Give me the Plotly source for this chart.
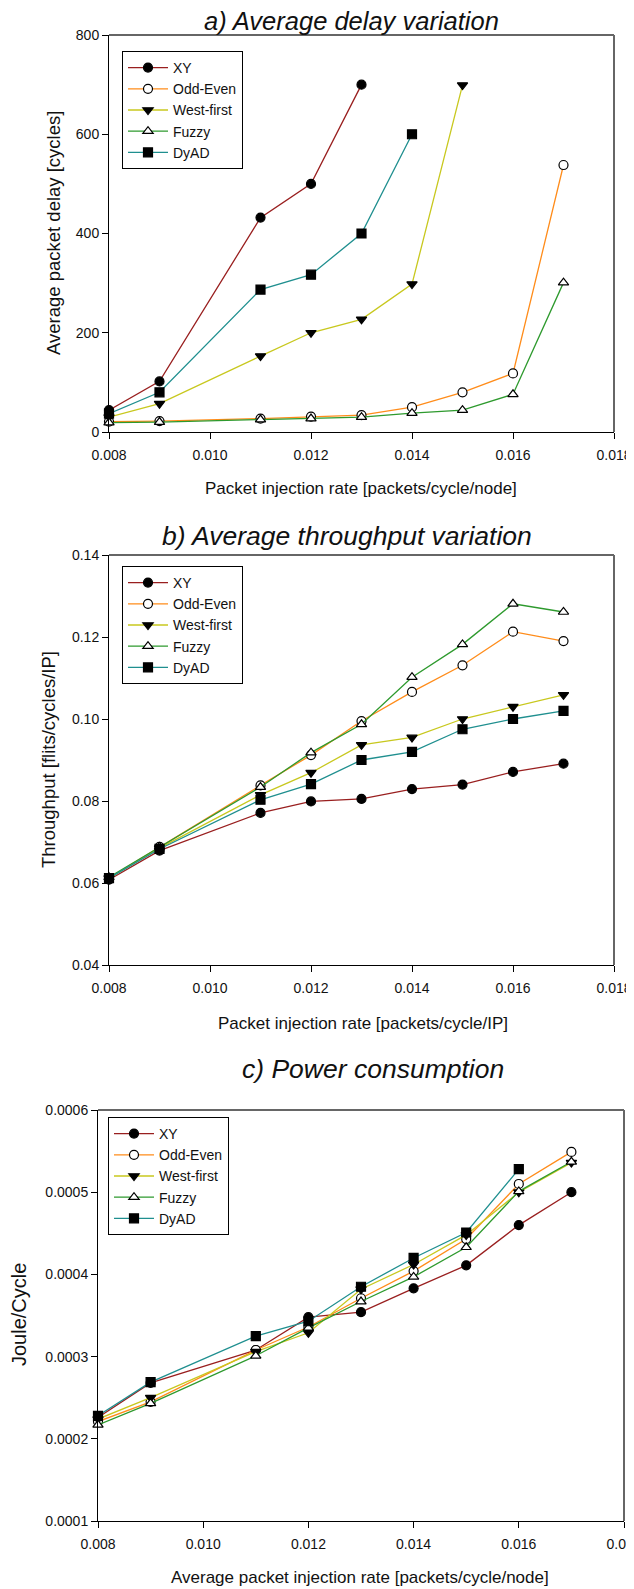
import plotly.graph_objects as go

# injection rates (x) shared by all three panels
rate = [0.008, 0.009, 0.011, 0.012, 0.013, 0.014, 0.015, 0.016, 0.017]

# a) average packet delay [cycles]
delay_xy = [44, 102, 432, 500, 700]
delay_oddeven = [21, 22, 27, 31, 34, 50, 80, 118, 538]
delay_westfirst = [30, 57, 153, 200, 227, 298, 699]
delay_fuzzy = [19, 20, 25, 27, 30, 38, 44, 76, 301]
delay_dyad = [37, 80, 287, 317, 400, 600]

# b) throughput [flits/cycles/IP]
thr_xy = [0.0608, 0.0679, 0.0771, 0.0799, 0.0805, 0.0829, 0.0840, 0.0871, 0.0891]
thr_oddeven = [0.0612, 0.0688, 0.0838, 0.0912, 0.0995, 0.1066, 0.1131, 0.1213, 0.1190]
thr_westfirst = [0.0612, 0.0685, 0.0815, 0.0869, 0.0937, 0.0955, 0.1000, 0.1030, 0.1059]
thr_fuzzy = [0.0614, 0.0688, 0.0834, 0.0918, 0.0987, 0.1102, 0.1182, 0.1281, 0.1261]
thr_dyad = [0.0612, 0.0683, 0.0803, 0.0841, 0.0900, 0.0920, 0.0975, 0.1000, 0.1020]

# c) power consumption [Joule/Cycle]
pow_xy = [0.000226, 0.000268, 0.000308, 0.000348, 0.000354, 0.000383, 0.000411, 0.000460, 0.000500]
pow_oddeven = [0.000221, 0.000245, 0.000308, 0.000336, 0.000371, 0.000404, 0.000443, 0.000510, 0.000549]
pow_westfirst = [0.000224, 0.000250, 0.000306, 0.000329, 0.000382, 0.000412, 0.000448, 0.000500, 0.000536]
pow_fuzzy = [0.000217, 0.000243, 0.000301, 0.000335, 0.000367, 0.000397, 0.000433, 0.000501, 0.000537]
pow_dyad = [0.000228, 0.000269, 0.000325, 0.000343, 0.000385, 0.000420, 0.000451, 0.000528]

names = ['XY', 'Odd-Even', 'West-first', 'Fuzzy', 'DyAD']
colors = ['#991f1f', '#ff8c1a', '#c8c81e', '#2e9a2e', '#1f8f8f']
symbols = ['circle', 'circle-open', 'triangle-down', 'triangle-up-open', 'square']

# the page body has an 8px margin, so the figure is a bit smaller than
# the window and all page pixel positions are shifted by OFF
OFF = 8
W, H = 634 - OFF, 1589 - OFF
FONT = 'Liberation Sans, Arial, sans-serif'


def px_x(p):
    return (p - OFF) / W


def px_y(p):
    return 1 - (p - OFF) / H


fig = go.Figure()

panels = [
    (1, [delay_xy, delay_oddeven, delay_westfirst, delay_fuzzy, delay_dyad]),
    (2, [thr_xy, thr_oddeven, thr_westfirst, thr_fuzzy, thr_dyad]),
    (3, [pow_xy, pow_oddeven, pow_westfirst, pow_fuzzy, pow_dyad]),
]

for k, series in panels:
    suffix = '' if k == 1 else str(k)
    for name, col, sym, ys in zip(names, colors, symbols, series):
        fig.add_trace(go.Scatter(
            x=rate[:len(ys)], y=ys, name=name, mode='lines+markers',
            line=dict(color=col, width=1.3),
            marker=dict(symbol=sym, size=9, color='black',
                        line=dict(color='black', width=1.2)),
            cliponaxis=False,
            xaxis='x' + suffix, yaxis='y' + suffix,
            legend='legend' + suffix))

# open markers need a white inside
for tr in fig.data:
    if tr.marker.symbol.endswith('open'):
        tr.marker.symbol = tr.marker.symbol.replace('-open', '')
        tr.marker.color = 'white'

# page-pixel boxes of the three plot areas: left, right, top, bottom
boxes = {
    1: (109, 614, 35, 432),
    2: (109, 614, 555, 965),
    3: (98, 624, 1110, 1521),
}
yranges = {1: [0, 800], 2: [0.04, 0.14], 3: [0.0001, 0.0006]}
ytick = {1: (200, None), 2: (0.02, '.2f'), 3: (0.0001, '.4f')}
legend_pos = {1: (122, 51), 2: (122, 566), 3: (108, 1117)}

axis_font = dict(family=FONT, size=14, color='#111')
layout = {}
for k, (l, r, t, b) in boxes.items():
    s = '' if k == 1 else str(k)
    layout['xaxis' + s] = dict(
        domain=[px_x(l), px_x(r)], range=[0.008, 0.018], dtick=0.002,
        tick0=0.008, tickformat='.3f', ticks='outside', ticklen=6,
        tickcolor='black', showline=True, linecolor='black', linewidth=1,
        showgrid=False, zeroline=False, tickfont=axis_font,
        ticklabelstandoff=4, ticklabeloverflow='allow', anchor='y' + s)
    dt, fmt = ytick[k]
    ya = dict(
        domain=[px_y(b), px_y(t)], range=yranges[k], dtick=dt,
        tick0=yranges[k][0], ticks='outside', ticklen=6, tickcolor='black',
        showline=True, linecolor='black', linewidth=1, showgrid=False,
        zeroline=False, tickfont=axis_font, anchor='x' + s)
    if fmt:
        ya['tickformat'] = fmt
    layout['yaxis' + s] = ya
    lx, ly = legend_pos[k]
    layout['legend' + s] = dict(
        x=px_x(lx), y=px_y(ly), xanchor='left', yanchor='top',
        bordercolor='black', borderwidth=1, bgcolor='white',
        font=dict(family=FONT, size=14, color='#111'),
        tracegroupgap=0, itemwidth=40)

# grey frame on top and right of each plot
shapes = []
for k, (l, r, t, b) in boxes.items():
    s = '' if k == 1 else str(k)
    shapes.append(dict(type='line', xref='x%s domain' % s, yref='y%s domain' % s,
                       x0=0, x1=1, y0=1, y1=1, line=dict(color='#666', width=2)))
    shapes.append(dict(type='line', xref='x%s domain' % s, yref='y%s domain' % s,
                       x0=1, x1=1, y0=0, y1=1, line=dict(color='#666', width=2)))

# titles and axis titles (page-pixel centres)
texts = [
    ('<i>a) Average delay variation</i>', 351, 21, 25.5, 0),
    ('<i>b) Average throughput variation</i>', 347, 536, 26.5, 0),
    ('<i>c) Power consumption</i>', 373, 1069, 26.5, 0),
    ('Average packet delay [cycles]', 53, 233, 18.5, -90),
    ('Throughput [flits/cycles/IP]', 49, 760, 18.5, -90),
    ('Joule/Cycle', 19, 1315, 20, -90),
    ('Packet injection rate [packets/cycle/node]', 361, 489, 17, 0),
    ('Packet injection rate [packets/cycle/IP]', 363, 1023, 17, 0),
    ('Average packet injection rate [packets/cycle/node]', 360, 1577, 17, 0),
]
annotations = []
for txt, cx, cy, size, ang in texts:
    annotations.append(dict(
        text=txt, x=px_x(cx), y=px_y(cy), xref='paper', yref='paper',
        xanchor='center', yanchor='middle', showarrow=False, textangle=ang,
        font=dict(family=FONT, size=size, color='#111')))

fig.update_layout(
    width=W, height=H, autosize=False,
    margin=dict(l=0, r=0, t=0, b=0, autoexpand=False),
    paper_bgcolor='white', plot_bgcolor='white',
    shapes=shapes, annotations=annotations,
    **layout)

fig.write_html("out.html")
